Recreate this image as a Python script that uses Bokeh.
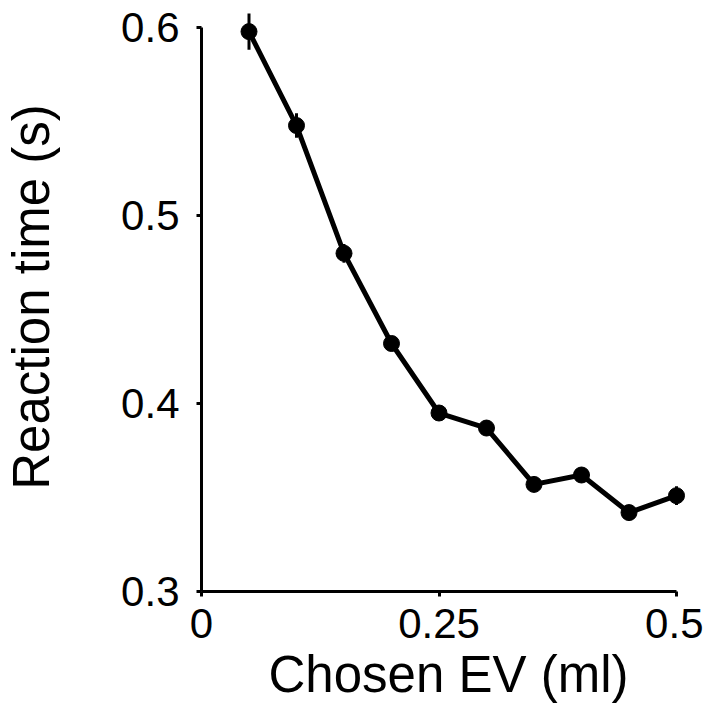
from bokeh.plotting import figure
from bokeh.models import FixedTicker, ColumnDataSource, Range1d
from bokeh.embed import file_html
from bokeh.resources import INLINE

chosen_ev = [0.05, 0.10, 0.15, 0.20, 0.25, 0.30, 0.35, 0.40, 0.45, 0.50]
reaction_time = [0.598, 0.548, 0.480, 0.432, 0.395, 0.387, 0.357, 0.362, 0.342, 0.351]
rt_sem = [0.0097, 0.0065, 0.005, 0.004, 0.004, 0.004, 0.004, 0.004, 0.004, 0.005]

x_ticks = [0, 0.25, 0.5]
x_tick_labels = ["0", "0.25", "0.5"]
y_ticks = [0.3, 0.4, 0.5, 0.6]
y_tick_labels = ["0.3", "0.4", "0.5", "0.6"]

src = ColumnDataSource(dict(
    x=chosen_ev, y=reaction_time,
    lo=[v - e for v, e in zip(reaction_time, rt_sem)],
    hi=[v + e for v, e in zip(reaction_time, rt_sem)],
))

FONT = "Liberation Sans"

p = figure(width=703, height=717, output_backend="svg", toolbar_location=None,
           x_range=Range1d(0, 0.52), y_range=Range1d(0.3, 0.6135),
           min_border_left=196, min_border_right=8, min_border_top=2, min_border_bottom=126)
p.outline_line_color = None
p.xgrid.grid_line_color = None
p.ygrid.grid_line_color = None

p.segment(x0="x", y0="lo", x1="x", y1="hi", source=src, line_color="black", line_width=3)
p.line(x="x", y="y", source=src, line_color="black", line_width=5)
p.scatter(x="x", y="y", source=src, size=16, fill_color="black", line_color="black")

for ax, ticks, labels in ((p.xaxis, x_ticks, x_tick_labels), (p.yaxis, y_ticks, y_tick_labels)):
    ax.ticker = FixedTicker(ticks=ticks)
    ax.major_label_overrides = {t: l for t, l in zip(ticks, labels)}
    ax.minor_tick_line_color = None
    ax.axis_line_width = 3
    ax.axis_line_color = "black"
    ax.major_tick_line_width = 3
    ax.major_tick_line_color = "black"
    ax.major_tick_out = 5
    ax.major_tick_in = 0
    ax.major_label_text_font = FONT
    ax.major_label_text_font_size = "42px"
    ax.major_label_text_color = "black"
    ax.axis_label_text_font = FONT
    ax.axis_label_text_font_size = "51px"
    ax.axis_label_text_font_style = "normal"
    ax.axis_label_text_color = "black"

p.xaxis.bounds = (0, 0.5)
p.yaxis.bounds = (0.3, 0.6)
p.xaxis.axis_label = "Chosen EV (ml)"
p.yaxis.axis_label = "Reaction time (s)"
p.xaxis.major_label_standoff = 12
p.yaxis.major_label_standoff = 17
p.xaxis.axis_label_standoff = 5
p.yaxis.axis_label_standoff = 58

open("out.html", "w").write(file_html(p, INLINE))
